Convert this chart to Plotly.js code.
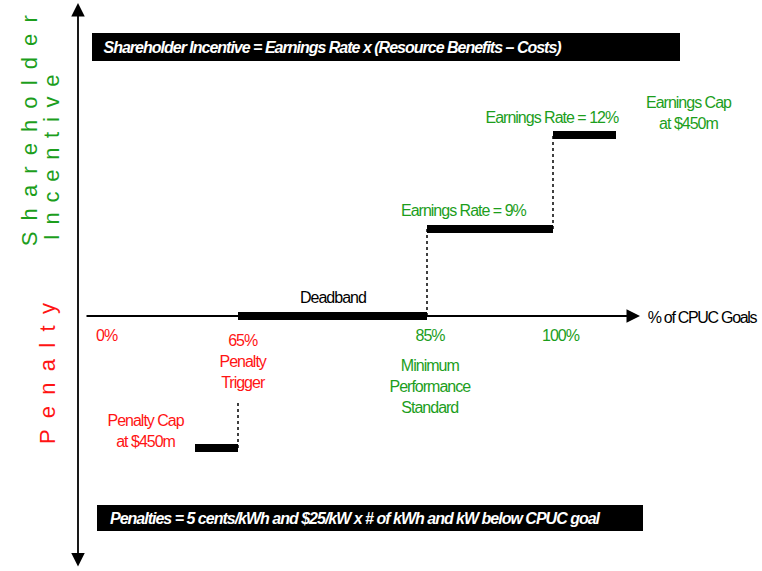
<!DOCTYPE html>
<html>
<head>
<meta charset="utf-8">
<script src="https://cdn.plot.ly/plotly-3.0.1.min.js"></script>
<style>
html,body{margin:0;padding:0;background:#fff;}
#chart{width:762px;height:571px;}
#chart .annotation-text{letter-spacing:-1px;}
#chart g.annotation[data-index="9"] .annotation-text{letter-spacing:-1.3px;}
#chart g.annotation[data-index="15"] .annotation-text{letter-spacing:2.5px;}
#chart g.annotation[data-index="16"] .annotation-text{letter-spacing:1.8px;}
#chart g.annotation[data-index="17"] .annotation-text{letter-spacing:2.6px;}
</style>
</head>
<body>
<div id="chart"></div>
<script>
// Schematic diagram: x in diagram units along the "% of CPUC Goals" axis,
// y in diagram units of incentive (+) / penalty (-), 0 = horizontal axis.
const goalLabels = ['0%', '65%', '85%', '100%'];
const goalPos    = [106, 242, 430, 560];

// Step segments of the incentive/penalty mechanism
const segNames = ['Penalty Cap', 'Deadband', 'Earnings Rate 9%', 'Earnings Rate 12%'];
const segStart = [195, 238, 427, 553];
const segEnd   = [238, 427, 553, 616];
const segLevel = [-132, 0, 87, 181];

// Dotted connectors
const dotX    = [238, 427, 553];
const dotFrom = [-132, 0, 87];
const dotTo   = [-84, 87, 181];

const GREEN = '#1c9e1c';
const RED = '#ff1414';
const SANS = '"Liberation Sans", Arial, sans-serif';

const traces = [];
for (let i = 0; i < segNames.length; i++) {
  traces.push({
    type: 'scatter', mode: 'lines', name: segNames[i],
    x: [segStart[i], segEnd[i]], y: [segLevel[i], segLevel[i]],
    line: {color: '#000', width: 8}, hoverinfo: 'skip', showlegend: false
  });
}
for (let i = 0; i < dotX.length; i++) {
  traces.push({
    type: 'scatter', mode: 'lines',
    x: [dotX[i], dotX[i]], y: [dotFrom[i], dotTo[i]],
    line: {color: '#000', width: 1.5, dash: 'dot'}, hoverinfo: 'skip', showlegend: false
  });
}

function lab(text, x, y, color, size, extra) {
  return Object.assign({
    text: text, x: x, y: y, xref: 'x', yref: 'y', showarrow: false,
    font: {family: SANS, size: size || 16, color: color},
    xanchor: 'center', yanchor: 'middle', align: 'center'
  }, extra || {});
}

const annotations = [
  // 0,1: axes arrows
  {x: 640, y: 0, ax: 85, ay: 0, xref: 'x', yref: 'y', axref: 'x', ayref: 'y',
   text: '', showarrow: true, arrowhead: 2, arrowsize: 1.5, arrowwidth: 1.8, arrowcolor: '#000', standoff: 0},
  {x: 78, y: 313, ax: 78, ay: -252, xref: 'x', yref: 'y', axref: 'x', ayref: 'y',
   text: '', showarrow: true, arrowhead: 2, startarrowhead: 2, arrowside: 'end+start',
   arrowsize: 1.5, startarrowsize: 1.5, arrowwidth: 1.8, arrowcolor: '#000', standoff: 0, startstandoff: 0},
  // 2,3: formula boxes text
  lab('Shareholder Incentive = Earnings Rate x (Resource Benefits \u2013 Costs)', 332, 269, '#fff', 16,
      {font: {family: SANS, size: 16, color: '#fff', weight: 'bold', style: 'italic'}}),
  lab('Penalties = 5 cents/kWh and $25/kW x # of kWh and kW below CPUC goal', 355, -202, '#fff', 16,
      {font: {family: SANS, size: 16, color: '#fff', weight: 'bold', style: 'italic'}}),
  // 4-9: tick labels
  lab(goalLabels[0], goalPos[0], -19, RED),
  lab(goalLabels[1] + '<br>Penalty<br>Trigger', goalPos[1], -45, RED),
  lab(goalLabels[2], goalPos[2], -19, GREEN),
  lab('Minimum<br>Performance<br>Standard', goalPos[2], -70, GREEN),
  lab(goalLabels[3], goalPos[3], -19, GREEN),
  lab('% of CPUC Goals', 702, -1, '#000', 16),
  // 10-14: segment labels
  lab('Penalty Cap<br>at $450m', 145, -115, RED),
  lab('Deadband', 333, 19, '#000'),
  lab('Earnings Rate = 9%', 463, 106, GREEN),
  lab('Earnings Rate = 12%', 552, 199, GREEN),
  lab('Earnings Cap<br>at $450m', 688, 203, GREEN),
  // 15-17: side labels
  lab('S h a r e h o l d e r', 29, 186, GREEN, 22, {textangle: -90, font: {family: SANS, size: 22, color: GREEN}}),
  lab('I n c e n t i v e', 51, 159, GREEN, 22, {textangle: -90, font: {family: SANS, size: 22, color: GREEN}}),
  lab('P e n a l t y', 47, -56, RED, 22, {textangle: -90, font: {family: SANS, size: 22, color: RED}})
];

const shapes = [
  {type: 'rect', xref: 'x', yref: 'y', x0: 92, x1: 680, y0: 255, y1: 283, fillcolor: '#000', line: {width: 0}, layer: 'below'},
  {type: 'rect', xref: 'x', yref: 'y', x0: 97, x1: 643, y0: -215, y1: -189, fillcolor: '#000', line: {width: 0}, layer: 'below'}
];

const layout = {
  width: 762, height: 571, autosize: false,
  margin: {l: 0, r: 0, t: 0, b: 0, pad: 0},
  paper_bgcolor: '#fff', plot_bgcolor: '#fff',
  xaxis: {range: [0, 762], visible: false, fixedrange: true},
  yaxis: {range: [-255, 316], visible: false, fixedrange: true},
  showlegend: false,
  annotations: annotations,
  shapes: shapes
};

Plotly.newPlot('chart', traces, layout, {displayModeBar: false, staticPlot: true});
</script>
</body>
</html>
